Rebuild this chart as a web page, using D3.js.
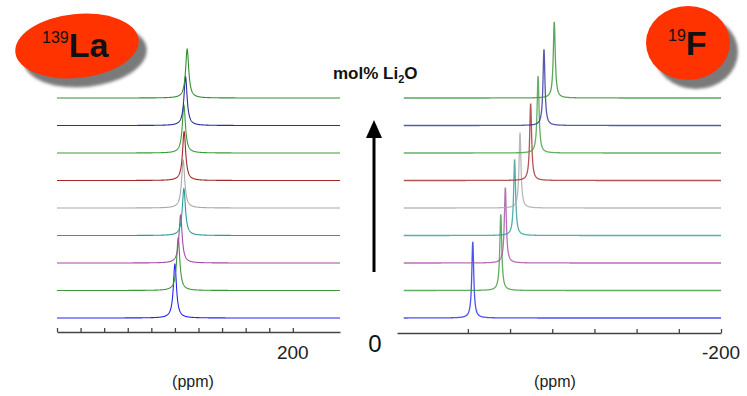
<!DOCTYPE html>
<html>
<head>
<meta charset="utf-8">
<script src="https://cdn.jsdelivr.net/npm/d3@7"></script>
<style>
  body { margin: 0; background: #fff; }
  svg { display: block; font-family: "Liberation Sans", Arial, sans-serif; }
</style>
</head>
<body>
<div id="chart"></div>
<script>
// composition steps, bottom (0 mol% Li2O) to top
const steps = ['s1', 's2', 's3', 's4', 's5', 's6', 's7', 's8', 's9'];

// 139La peak position (ppm) and relative height, bottom to top
const laShift = [700, 686, 676, 662, 665, 661, 662, 655, 648];
const laHeight = [1.12, 1.1, 1.0, 0.98, 1.0, 1.02, 1.0, 1.02, 1.02];

// 19F peak position (ppm) and relative height, bottom to top
const fShift = [-52.9, -69.5, -72.2, -77.7, -80.9, -87.2, -91.6, -95.1, -101.2];
const fHeight = [1.0, 1.0, 0.99, 1.0, 0.99, 1.01, 1.01, 1.0, 1.0];

// axis ticks
const laTicks = [1200, 1100, 1000, 900, 800, 700, 600, 500, 400, 300, 200];
const laTickLabels = [200];
const fTicks = [-50, -75, -100, -125, -150, -175, -200];
const fTickLabels = [-200];

const colors = ['#2424f0', '#3a983a', '#a24ea2', '#2c9a9a', '#a8a8a8',
                '#a02a2a', '#3c9c3c', '#2e2e9c', '#329032'];

const width = 747, height = 396;
const svg = d3.select('#chart').append('svg')
              .attr('width', width)
              .attr('height', height);

const defs = svg.append('defs');
defs.append('filter').attr('id', 'soft')
    .append('feGaussianBlur').attr('stdDeviation', 1.6);

// vertical stacking of the spectra
const stack = d3.scalePoint().domain(steps).range([318, 98]);

const lorentz = (x, x0, w) => 1 / (1 + ((x - x0) / w) ** 2);

function drawPanel(opt) {
  const x = d3.scaleLinear().domain(opt.domain).range(opt.range);
  const amp = d3.scaleLinear().domain([0, 1]).range([0, opt.peakPx]);
  const g = svg.append('g');

  // sample grid along the ppm axis
  const [a, b] = opt.traceDomain;
  const n = Math.round(Math.abs(a - b) / opt.step);
  const grid = d3.range(n + 1).map(i => a + (b - a) * i / n);

  const line = d3.line()
                 .x(d => x(d[0]))
                 .y(d => d[1]);

  steps.forEach((s, i) => {
    const base = stack(s);
    const pts = grid.map(p => [p, base - amp(opt.heights[i] * lorentz(p, opt.shifts[i], opt.hw))]);
    g.append('path')
     .attr('d', line(pts))
     .attr('fill', 'none')
     .attr('stroke', colors[i])
     .attr('stroke-opacity', opt.op)
     .attr('stroke-width', opt.sw);
  });

  const axis = svg.append('g')
                  .attr('transform', `translate(0, ${opt.axisY})`)
                  .call(d3.axisTop(x)
                          .tickValues(opt.ticks)
                          .tickSize(4)
                          .tickSizeOuter(0)
                          .tickFormat(''));
  axis.select('.domain').attr('stroke', '#444').attr('stroke-width', 1.3);
  axis.selectAll('.tick line').attr('stroke', '#444').attr('stroke-width', 1.3);

  opt.labels.forEach(v => {
    svg.append('text')
       .attr('x', x(v))
       .attr('y', 359)
       .attr('text-anchor', 'middle')
       .attr('font-size', 19)
       .attr('fill', '#222')
       .text(v);
  });

  svg.append('text')
     .attr('x', opt.unitX)
     .attr('y', 387)
     .attr('text-anchor', 'middle')
     .attr('font-size', 16)
     .attr('fill', '#222')
     .text('(ppm)');
}

drawPanel({
  domain: [1200, 0], range: [57, 340], traceDomain: [1200, 0], step: 0.5,
  shifts: laShift, heights: laHeight, hw: 8, peakPx: 48, sw: 1.1, op: 1,
  ticks: laTicks, labels: laTickLabels, axisY: 332, unitX: 193
});

drawPanel({
  domain: [-8, -200], range: [397, 721], traceDomain: [-12, -200], step: 0.05,
  shifts: fShift, heights: fHeight, hw: 0.7, peakPx: 76, sw: 1.3, op: 0.8,
  ticks: fTicks, labels: fTickLabels, axisY: 333, unitX: 555
});

// nucleus badges
function badge(cx, cy, rx, ry, rot, sup, el, tx, ty) {
  const g = svg.append('g');
  g.append('ellipse')
   .attr('cx', cx + 8).attr('cy', cy + 9).attr('rx', rx).attr('ry', ry)
   .attr('transform', `rotate(${rot}, ${cx + 8}, ${cy + 9})`)
   .attr('fill', '#7a7a7a')
   .attr('filter', 'url(#soft)');
  g.append('ellipse')
   .attr('cx', cx).attr('cy', cy).attr('rx', rx).attr('ry', ry)
   .attr('transform', `rotate(${rot}, ${cx}, ${cy})`)
   .attr('fill', '#ff3300');
  const t = g.append('text').attr('x', tx).attr('y', ty).attr('fill', '#111');
  t.append('tspan').attr('font-size', 16).attr('dy', -14).text(sup);
  t.append('tspan').attr('font-size', 34).attr('font-weight', 'bold').attr('dy', 14).text(el);
}
badge(77, 46, 62, 32, -6, '139', 'La', 42, 57);
badge(688, 43, 42, 37, 0, '19', 'F', 668, 55);

// composition arrow
const mid = svg.append('g');
mid.append('line')
   .attr('x1', 374).attr('x2', 374).attr('y1', 272).attr('y2', 136)
   .attr('stroke', '#000').attr('stroke-width', 3);
mid.append('path')
   .attr('d', d3.line()([[374, 120], [366, 138], [382, 138]]) + 'Z')
   .attr('fill', '#000');

const lbl = mid.append('text')
   .attr('x', 333).attr('y', 79)
   .attr('font-size', 17).attr('font-weight', 'bold').attr('fill', '#111');
lbl.append('tspan').text('mol% Li');
lbl.append('tspan').attr('font-size', 11).attr('dy', 4).text('2');
lbl.append('tspan').attr('dy', -4).text('O');

mid.append('text')
   .attr('x', 375).attr('y', 352)
   .attr('text-anchor', 'middle')
   .attr('font-size', 24).attr('fill', '#111')
   .text('0');
</script>
</body>
</html>
